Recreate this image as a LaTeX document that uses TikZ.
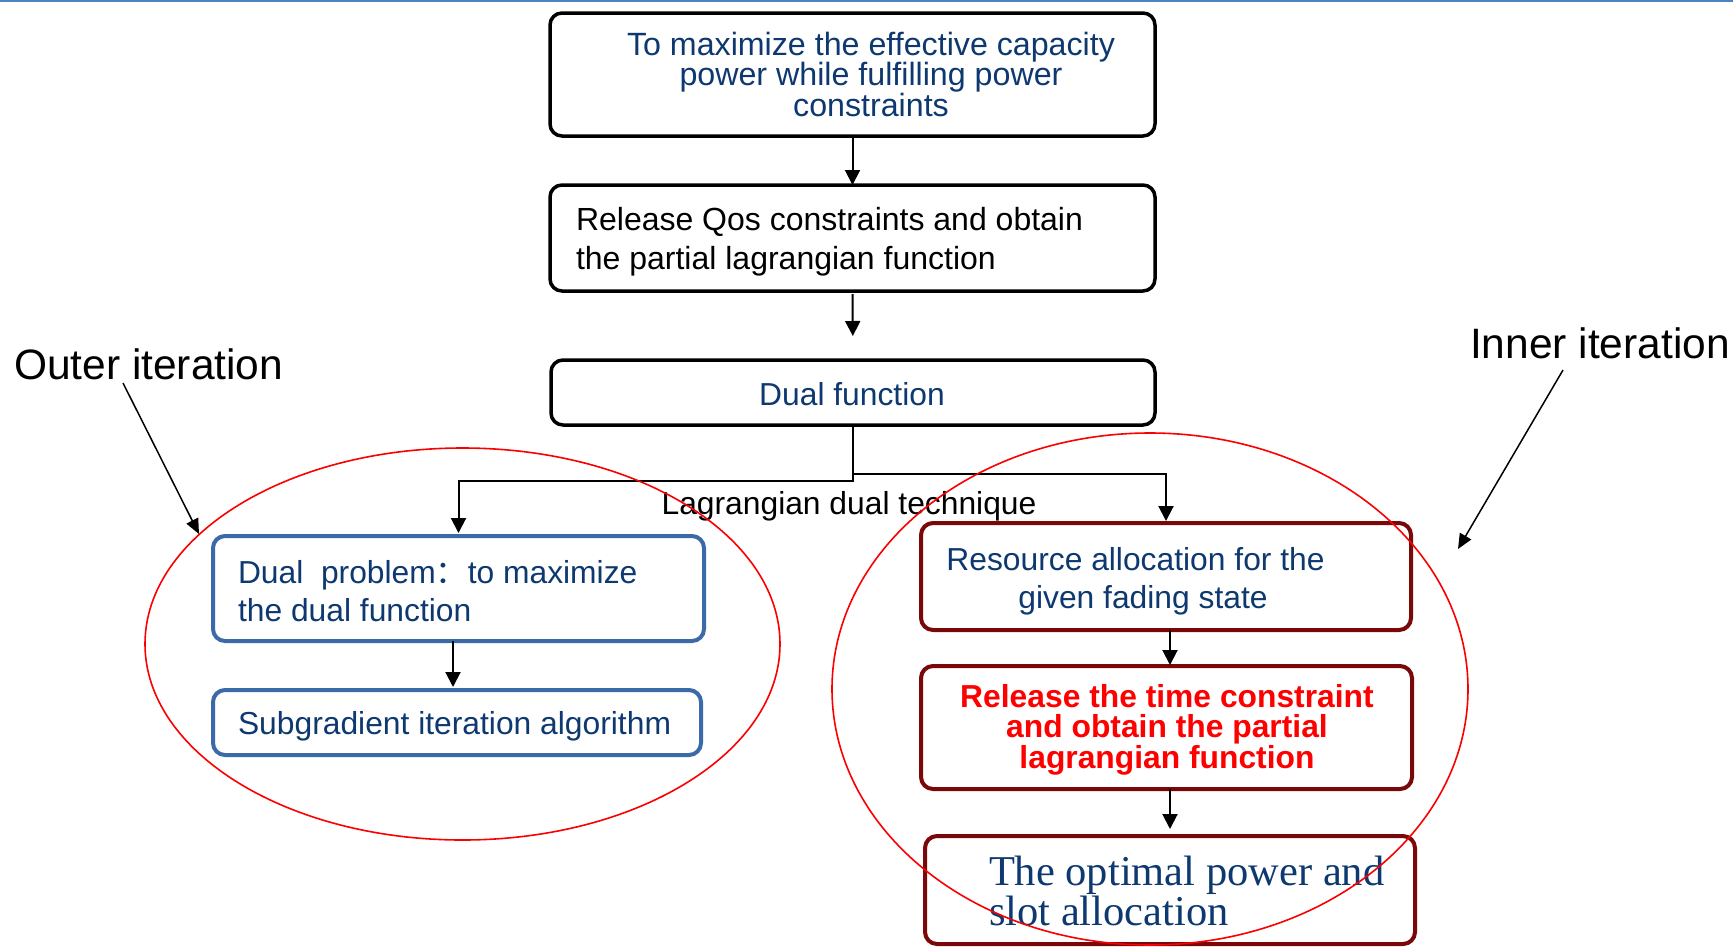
\documentclass[tikz,border=0pt]{standalone}
\usepackage{fontspec}
\setmainfont{Liberation Sans}
\newfontfamily\timesfont{Liberation Serif}
\newfontfamily\cjkfont{Noto Sans CJK SC}
\usetikzlibrary{arrows.meta,shapes.geometric}

\definecolor{navytext}{RGB}{14,57,112}
\definecolor{boxblue}{RGB}{58,106,168}
\definecolor{boxred}{RGB}{122,8,8}
\definecolor{loopred}{RGB}{250,0,0}
\definecolor{rulecolor}{RGB}{79,129,189}

\begin{document}
\begin{tikzpicture}[x=1pt,y=-1pt,
  every node/.style={inner sep=0pt, outer sep=0pt},
  stepbox/.style={rectangle, rounded corners=12pt, draw=black, line width=3.5pt, fill=white},
  bluebox/.style={rectangle, rounded corners=12pt, draw=boxblue, line width=4pt, fill=white},
  redbox/.style={rectangle, rounded corners=12pt, draw=boxred, line width=4pt, fill=white},
  body/.style={font=\fontsize{31.8pt}{38pt}\selectfont},
  flow/.style={line width=2pt, -{Triangle[length=15pt,width=15pt]}},
  pointer/.style={line width=1.5pt, -{Triangle[length=15pt,width=13pt]}},
  loop/.style={ellipse, draw=loopred, line width=1.6pt},
  callout/.style={font=\fontsize{42.5pt}{48pt}\selectfont},
]
\useasboundingbox (0,0) rectangle (1733,946);

% thin rule along the top edge
\draw[rulecolor, line width=2pt] (0,1) -- (1733,1);

% main column
\node[stepbox, minimum width=605pt, minimum height=123pt] (goal) at (852.5,74.5) {};
\node[text=navytext, align=center, font=\fontsize{32.2pt}{30.5pt}\selectfont] (goaltext) at (871,74)
  {To maximize the effective capacity\\power while fulfilling power\\constraints};

\node[stepbox, minimum width=605pt, minimum height=106pt] (release) at (852.5,238) {};
\node[anchor=west, align=left, font=\fontsize{32pt}{39pt}\selectfont] (releasetext) at (576,241.5)
  {Release Qos constraints and obtain\\the partial lagrangian function};

\node[stepbox, minimum width=604pt, minimum height=65pt] (dual) at (853,392.5) {};
\node[body, text=navytext] (dualtext) at (852,394.5) {Dual function};

\node[body, anchor=base] (technique) at (849,514) {Lagrangian dual technique};

% outer loop boxes
\node[bluebox, minimum width=491pt, minimum height=105pt] (dualprob) at (458.5,588.5) {};
\node[body, anchor=west, align=left, text=navytext] (dualprobtext) at (238,591)
  {Dual\ \ problem{\cjkfont ：}to maximize\\the dual function};

\node[bluebox, minimum width=488pt, minimum height=65pt] (subgrad) at (457,722.5) {};
\node[body, anchor=west, text=navytext] (subgradtext) at (238,726)
  {Subgradient iteration algorithm};

% inner loop boxes
\node[redbox, minimum width=490pt, minimum height=107pt] (resalloc) at (1166,576.5) {};
\node[body, text=navytext, align=center] (resalloctext) at (1143,581.5)
  {Resource allocation for the\hspace*{15pt}\\given fading state};

\node[redbox, minimum width=491pt, minimum height=123pt] (timerel) at (1166.5,727.5) {};
\node[text=red, align=center, font=\fontsize{31.8pt}{30.5pt}\selectfont\bfseries] (timereltext) at (1167,729.7)
  {Release the time constraint\\and obtain the partial\\lagrangian function};

\node[redbox, minimum width=490pt, minimum height=108pt] (optimal) at (1170,890) {};
\node[anchor=west, text=navytext, align=left, font=\fontsize{42.5pt}{40pt}\timesfont] (optimaltext) at (989,891)
  {The optimal power and\\slot allocation};

% flow connectors
\draw[flow] (goal.south) -- (release.north);
\draw[flow, shorten <=3pt, shorten >=24pt] (release.south) -- (dual.north);
\draw[flow, shorten >=3pt] (dual.south) -- ++(0,56) -| (dualprob.north);
\draw[flow, shorten >=2pt] ([yshift=-49pt]dual.south) -| (resalloc.north);
\draw[flow, shorten >=3pt] ([xshift=-5.5pt]dualprob.south) -- ([xshift=-5.5pt]dualprob.south |- subgrad.north);
\draw[flow, shorten >=1pt] ([xshift=4pt]resalloc.south) -- ([xshift=4pt]resalloc.south |- timerel.north);
\draw[flow, shorten >=7pt] ([xshift=3.5pt]timerel.south) -- ([xshift=3.5pt]timerel.south |- optimal.north);

% iteration loops
\node[loop, minimum width=635pt, minimum height=392pt] (outerloop) at (462.5,644) {};
\node[loop, minimum width=636pt, minimum height=512pt] (innerloop) at (1150,689) {};

% callouts
\node[callout, anchor=base west] (outerlabel) at (14,379) {Outer iteration};
\node[callout, anchor=base west] (innerlabel) at (1470,358) {Inner iteration};
\coordinate (outertail) at (123,383);
\coordinate (outerhead) at (199,534);
\coordinate (innertail) at (1563,370);
\coordinate (innerhead) at (1458,549);
\draw[pointer] (outertail) -- (outerhead);
\draw[pointer] (innertail) -- (innerhead);
\end{tikzpicture}
\end{document}
